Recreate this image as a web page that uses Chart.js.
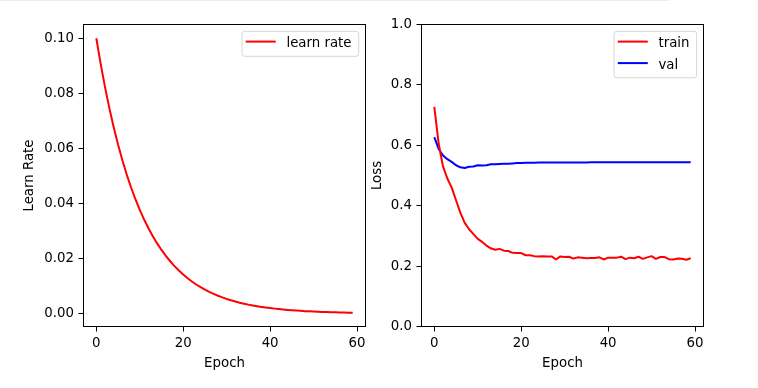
<!DOCTYPE html>
<html><head><meta charset="utf-8">
<script src="https://cdn.jsdelivr.net/npm/chart.js@4"></script>
<style>
html,body{margin:0;padding:0;background:#fff;}
#wrap{position:relative;width:758px;height:388px;overflow:hidden;background:#fff;}
#wrap canvas{position:absolute;left:0;top:0;}
#topline{position:absolute;left:0;top:0;width:669px;height:1px;background:#ececec;}
</style></head><body>
<div id="wrap">
<div id="topline"></div>
<canvas id="c1" width="758" height="388"></canvas>
<canvas id="c2" width="758" height="388"></canvas>
</div>
<script>
const epochs = [0,1,2,3,4,5,6,7,8,9,10,11,12,13,14,15,16,17,18,19,20,21,22,23,24,25,26,27,28,29,30,31,32,33,34,35,36,37,38,39,40,41,42,43,44,45,46,47,48,49,50,51,52,53,54,55,56,57,58,59];
const learnRate = [0.10000,0.09070,0.08226,0.07462,0.06768,0.06138,0.05567,0.05050,0.04580,0.04154,
  0.03768,0.03417,0.03100,0.02811,0.02550,0.02313,0.02098,0.01903,0.01726,0.01565,
  0.01420,0.01288,0.01168,0.01059,0.00961,0.00871,0.00790,0.00717,0.00650,0.00590,
  0.00535,0.00485,0.00440,0.00399,0.00362,0.00328,0.00298,0.00270,0.00245,0.00222,
  0.00202,0.00183,0.00166,0.00150,0.00136,0.00124,0.00112,0.00102,0.00092,0.00084,
  0.00076,0.00069,0.00062,0.00057,0.00051,0.00047,0.00042,0.00038,0.00035,0.00032];
const trainLoss = [0.727,0.605,0.530,0.490,0.460,0.418,0.376,0.343,0.322,0.306,
  0.290,0.280,0.268,0.259,0.254,0.257,0.251,0.250,0.244,0.243,
  0.243,0.236,0.236,0.233,0.232,0.233,0.232,0.232,0.222,0.232,
  0.230,0.231,0.225,0.229,0.228,0.226,0.227,0.227,0.229,0.222,
  0.228,0.228,0.228,0.231,0.223,0.228,0.226,0.231,0.224,0.229,
  0.233,0.224,0.230,0.230,0.223,0.222,0.225,0.224,0.221,0.226];
const valLoss = [0.627,0.588,0.566,0.554,0.545,0.534,0.527,0.525,0.529,0.530,
  0.534,0.533,0.534,0.537,0.537,0.538,0.539,0.539,0.540,0.541,
  0.541,0.542,0.542,0.542,0.543,0.543,0.543,0.543,0.543,0.543,
  0.543,0.543,0.543,0.543,0.543,0.543,0.544,0.544,0.544,0.544,
  0.544,0.544,0.544,0.544,0.544,0.544,0.544,0.544,0.544,0.544,
  0.544,0.544,0.544,0.544,0.544,0.544,0.544,0.544,0.544,0.544];
const epochTicks = [0,20,40,60];
const lrTicks = [0.00,0.02,0.04,0.06,0.08,0.10];
const lossTicks = [0.0,0.2,0.4,0.6,0.8,1.0];

const FONT = 'DejaVu Sans';
const FS = 13.33;

function pts(ys){ return epochs.map((e,i)=>({x:e,y:ys[i]})); }

const framePlugin = {
  id:'frame',
  afterDatasetsDraw(chart){
    const a = chart.chartArea, ctx = chart.ctx;
    ctx.save();
    ctx.strokeStyle = '#000'; ctx.lineWidth = 1;
    ctx.strokeRect(a.left, a.top, a.right-a.left, a.bottom-a.top);
    ctx.restore();
  }
};

function roundRect(ctx,x,y,w,h,r){
  ctx.beginPath();
  ctx.moveTo(x+r,y); ctx.lineTo(x+w-r,y); ctx.arcTo(x+w,y,x+w,y+r,r);
  ctx.lineTo(x+w,y+h-r); ctx.arcTo(x+w,y+h,x+w-r,y+h,r);
  ctx.lineTo(x+r,y+h); ctx.arcTo(x,y+h,x,y+h-r,r);
  ctx.lineTo(x,y+r); ctx.arcTo(x,y,x+r,y,r); ctx.closePath();
}

const legendPlugin = {
  id:'mplLegend',
  afterDraw(chart){
    const a = chart.chartArea, ctx = chart.ctx;
    const ds = chart.data.datasets;
    ctx.save();
    ctx.font = FS + 'px "' + FONT + '"';
    let tw = 0;
    ds.forEach(d=>{ tw = Math.max(tw, ctx.measureText(d.label).width); });
    const w = 3.7 + 30 + 10.7 + tw + 7.2;
    const h = 25 + (ds.length-1)*21.5;
    const right = a.right - 6.8, top = a.top + 6.8;
    const left = right - w;
    roundRect(ctx, left, top, w, h, 2.7);
    ctx.fillStyle = 'rgba(255,255,255,0.8)'; ctx.fill();
    ctx.strokeStyle = 'rgba(204,204,204,0.8)'; ctx.lineWidth = 1; ctx.stroke();
    ds.forEach((d,i)=>{
      const cy = top + 10.3 + i*21.5;
      ctx.beginPath();
      ctx.moveTo(left+3.7, cy); ctx.lineTo(left+33.7, cy);
      ctx.strokeStyle = d.borderColor; ctx.lineWidth = 2; ctx.lineCap = 'butt'; ctx.stroke();
      ctx.fillStyle = '#000'; ctx.textBaseline = 'alphabetic'; ctx.textAlign = 'left';
      ctx.fillText(d.label, left+44.4, cy+5.4);
    });
    ctx.restore();
  }
};

function xScale(){
  return {
    type:'linear', min:-2.95, max:61.95,
    afterBuildTicks(s){ s.ticks = epochTicks.map(v=>({value:v})); },
    afterFit(s){ s.height = 61.5; },
    grid:{drawOnChartArea:false, drawTicks:true, tickLength:5, color:'#000', tickColor:'#000', lineWidth:1},
    border:{display:false},
    ticks:{font:{family:FONT,size:FS}, color:'#000', padding:4, maxRotation:0, callback:v=>String(v)},
    title:{display:true, text:'Epoch', font:{family:FONT,size:FS}, color:'#000', padding:{top:0,bottom:16.5}}
  };
}

function yScale(min,max,ticksArr,dec,width,title,titlePad){
  return {
    type:'linear', min:min, max:max,
    afterBuildTicks(s){ s.ticks = ticksArr.map(v=>({value:v})); },
    afterFit(s){ s.width = width; },
    grid:{drawOnChartArea:false, drawTicks:true, tickLength:5, color:'#000', tickColor:'#000', lineWidth:1},
    border:{display:false},
    ticks:{font:{family:FONT,size:FS}, color:'#000', padding:4.5, callback:v=>Number(v).toFixed(dec)},
    title:{display:true, text:title, font:{family:FONT,size:FS}, color:'#000', padding:{top:titlePad,bottom:0}}
  };
}

const common = {
  responsive:false, animation:false, devicePixelRatio:1,
  plugins:{legend:{display:false}, tooltip:{enabled:false}},
  elements:{point:{radius:0}, line:{tension:0, borderWidth:2, borderJoinStyle:'round', borderCapStyle:'butt'}}
};

new Chart(document.getElementById('c1'), {
  type:'line',
  data:{datasets:[{label:'learn rate', data:pts(learnRate), borderColor:'#ff0000', backgroundColor:'#ff0000', fill:false}]},
  options:Object.assign({}, common, {
    layout:{padding:{left:0, top:24.5, right:392.5, bottom:0}},
    scales:{x:xScale(), y:yScale(-0.00466,0.10498,lrTicks,2,83.5,'Learn Rate',21.3)}
  }),
  plugins:[framePlugin, legendPlugin]
});

new Chart(document.getElementById('c2'), {
  type:'line',
  data:{datasets:[
    {label:'train', data:pts(trainLoss), borderColor:'#ff0000', backgroundColor:'#ff0000', fill:false},
    {label:'val', data:pts(valLoss), borderColor:'#0000ff', backgroundColor:'#0000ff', fill:false}
  ]},
  options:Object.assign({}, common, {
    layout:{padding:{left:360, top:24.5, right:54.5, bottom:0}},
    scales:{x:xScale(), y:yScale(0,1,lossTicks,1,61.5,'Loss',9.3)}
  }),
  plugins:[framePlugin, legendPlugin]
});
</script>
</body></html>
